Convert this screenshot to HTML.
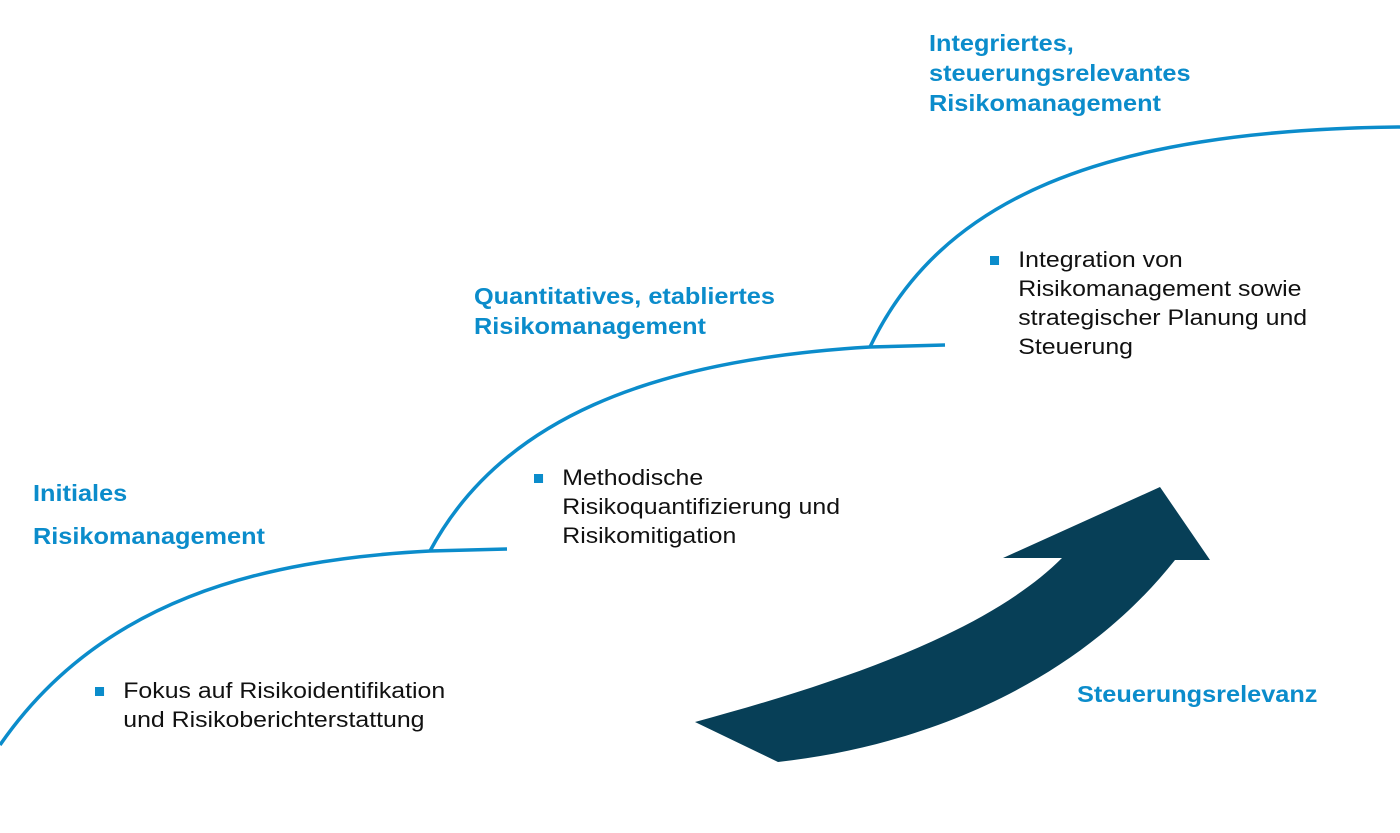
<!DOCTYPE html>
<html><head><meta charset="utf-8"><style>
body{margin:0;width:1400px;height:833px;background:#fff;overflow:hidden;position:relative;font-family:"Liberation Sans",sans-serif}
.t{position:absolute;color:#0b8ccb;font-weight:bold;font-size:23px;line-height:30px;transform:scaleX(1.1);transform-origin:0 0;white-space:nowrap}
.b{position:absolute;color:#111;font-size:22px;line-height:29px;padding-left:25px;transform:scaleX(1.13);transform-origin:0 0;white-space:nowrap}
.b:before{content:"";position:absolute;left:0;top:11px;width:8px;height:9px;background:#0b8ccb}
</style></head><body>
<svg width="1400" height="833" style="position:absolute;left:0;top:0">
<g fill="none" stroke="#0b8ccb" stroke-width="3.5">
<path d="M0,745 C100,600 260,560 430,551 L507,549"/>
<path d="M430,551 C500,420 650,360 870,347 L945,345"/>
<path d="M870,347 C940,200 1100,130 1400,127"/>
</g>
<path fill="#073f57" d="M695,722 C850,680 990,630 1062,558 L1003,558 L1160,487 L1210,560 L1175,560 C1080,680 930,745 778,762 Z"/>
</svg>
<div class="t" style="left:33px;top:472px;line-height:43px">Initiales<br>Risikomanagement</div>
<div class="t" style="left:474px;top:281px">Quantitatives, etabliertes<br>Risikomanagement</div>
<div class="t" style="left:929px;top:28px">Integriertes,<br>steuerungsrelevantes<br>Risikomanagement</div>
<div class="t" style="left:1077px;top:679px">Steuerungsrelevanz</div>
<div class="b" style="left:95px;top:676px">Fokus auf Risikoidentifikation<br>und Risikoberichterstattung</div>
<div class="b" style="left:534px;top:463px">Methodische<br>Risikoquantifizierung und<br>Risikomitigation</div>
<div class="b" style="left:990px;top:245px">Integration von<br>Risikomanagement sowie<br>strategischer Planung und<br>Steuerung</div>
</body></html>
